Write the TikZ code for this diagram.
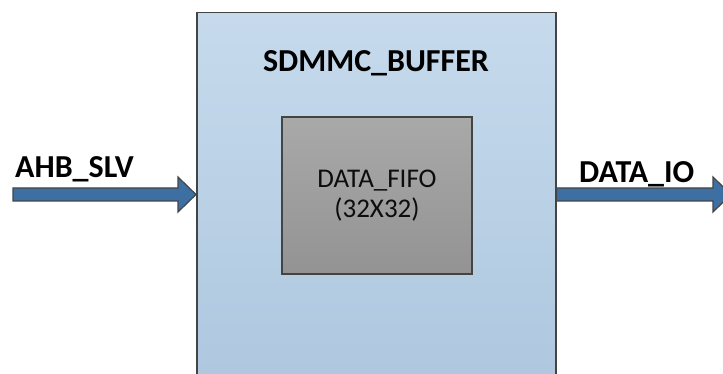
\documentclass[tikz,border=0pt]{standalone}
\usepackage{fontspec}
\setmainfont{Carlito}
\usetikzlibrary{positioning,calc}
\definecolor{skytop}{HTML}{C6DAEC}
\definecolor{skylow}{HTML}{ACC6DE}
\definecolor{fifotop}{HTML}{A9A9A9}
\definecolor{fifolow}{HTML}{939393}
\definecolor{edge}{HTML}{444444}
\definecolor{busblue}{HTML}{3D6FA2}
\tikzset{bufbox/.style={draw=edge,line width=1.5pt,top color=skytop,bottom color=skylow,anchor=north west,inner sep=0pt},
  fifobox/.style={draw=edge,line width=2pt,top color=fifotop,bottom color=fifolow,anchor=north west,inner sep=0pt,align=center,font=\fontsize{27}{30}\selectfont,text=black!95},
  buslabel/.style={font=\bfseries\fontsize{32}{36}\selectfont,inner sep=0pt,anchor=base west},
  busfill/.style={fill=busblue,draw=edge,line width=1.2pt,line join=miter}}
\newcommand\busarrow[2]{\draw[busfill] let \p1=(#1), \p2=(#2) in
  (\x1,\y1+6.5pt) -- (\x2-18pt,\y1+6.5pt) -- (\x2-18pt,\y1+17.5pt) -- (\x2,\y1)
  -- (\x2-18pt,\y1-17.5pt) -- (\x2-18pt,\y1-6.5pt) -- (\x1,\y1-6.5pt) -- cycle;}

\begin{document}
\begin{tikzpicture}[x=1pt,y=1pt]
\useasboundingbox (0,0) rectangle (723,-374);
% buffer block
\node[bufbox,minimum width=359pt,minimum height=400pt] (buf) at (196,-12) {};
\node[font=\bfseries\fontsize{32}{36}\selectfont,inner sep=0pt,anchor=base] (bufname) at (376,-72) {SDMMC\_BUFFER};
\node[fifobox,minimum width=190pt,minimum height=157pt] (fifo) at (281,-116) {DATA\_FIFO\\(32X32)};
% bus arrows
\coordinate (ahbtail) at (13,-194.5);
\coordinate (ahbtip) at (ahbtail -| buf.west);
\coordinate (iostart) at (ahbtail -| buf.east);
\coordinate (iotip) at (731,-194.5);
\busarrow{ahbtail}{ahbtip}
\busarrow{iostart}{iotip}
\node[buslabel] (ahb) at (15,-178) {AHB\_SLV};
\node[buslabel] (dataio) at (579,-183) {DATA\_IO};
\end{tikzpicture}
\end{document}
